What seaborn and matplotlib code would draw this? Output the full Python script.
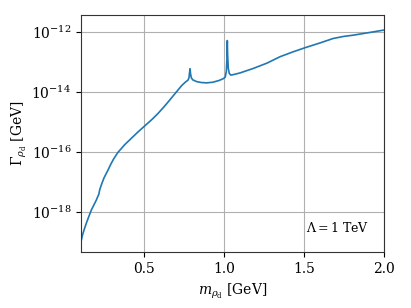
import numpy as np
import pandas as pd
import seaborn as sns
import matplotlib.pyplot as plt

# mass [GeV] and log10 of the width [GeV]
mass = [0.106, 0.115, 0.125, 0.139, 0.155, 0.171, 0.187, 0.202, 0.212, 0.218,
        0.223, 0.233, 0.25, 0.275, 0.29, 0.31, 0.337, 0.38, 0.421, 0.46,
        0.504, 0.55, 0.588, 0.625, 0.66, 0.70, 0.736, 0.760, 0.775, 0.781,
        0.785, 0.788, 0.791, 0.796, 0.805, 0.83, 0.86, 0.892, 0.93, 0.97,
        0.996, 1.008, 1.015, 1.019, 1.021, 1.023, 1.027, 1.033, 1.042, 1.055,
        1.10, 1.183, 1.27, 1.35, 1.43, 1.506, 1.60, 1.683, 1.75, 1.808, 1.90,
        2.0]
log_width = [-18.99, -18.78, -18.60, -18.38, -18.15, -17.93, -17.76, -17.60,
             -17.47, -17.40, -17.26, -17.10, -16.86, -16.60, -16.43, -16.23,
             -16.01, -15.75, -15.54, -15.34, -15.13, -14.91, -14.71, -14.49,
             -14.27, -14.01, -13.78, -13.66, -13.60, -13.53, -13.35, -13.22,
             -13.38, -13.52, -13.59, -13.65, -13.68, -13.69, -13.67, -13.61,
             -13.55, -13.50, -13.30, -12.85, -12.28, -12.75, -13.20, -13.37,
             -13.43, -13.42, -13.36, -13.21, -13.03, -12.82, -12.66, -12.52,
             -12.36, -12.21, -12.14, -12.10, -12.02, -11.93]

df = pd.DataFrame({"m": mass, "G": 10.0 ** np.array(log_width)})

plt.rcParams["font.family"] = "DejaVu Serif"
plt.rcParams["mathtext.fontset"] = "dejavuserif"

fig = plt.figure(figsize=(4.11, 3.08), dpi=100)
ax = fig.add_axes([0.197, 0.182, 0.737, 0.769])
sns.lineplot(data=df, x="m", y="G", ax=ax, color="#1f77b4", linewidth=1.2)
ax.set_yscale("log")
ax.set_xlim(0.106, 2.0)
ax.set_ylim(10 ** -19.33, 10 ** -11.43)
ax.set_yticks([1e-18, 1e-16, 1e-14, 1e-12])
ax.minorticks_off()
ax.set_xticks([0.5, 1.0, 1.5, 2.0])
ax.grid(True, color="#b0b0b0", linewidth=0.8)
ax.tick_params(labelsize=10)
ax.set_xlabel(r"$m_{\rho_{\rm d}}$ [GeV]", fontsize=10)
ax.set_ylabel(r"$\Gamma_{\rho_{\rm d}}$ [GeV]", fontsize=10)
ax.yaxis.set_label_coords(-0.17, 0.5)
ax.text(0.95, 0.07, r"$\Lambda = 1$ TeV", transform=ax.transAxes,
        ha="right", va="bottom", fontsize=9)
for s in ax.spines.values():
    s.set_color("#333333")

fig.savefig("out.png", dpi=100)
